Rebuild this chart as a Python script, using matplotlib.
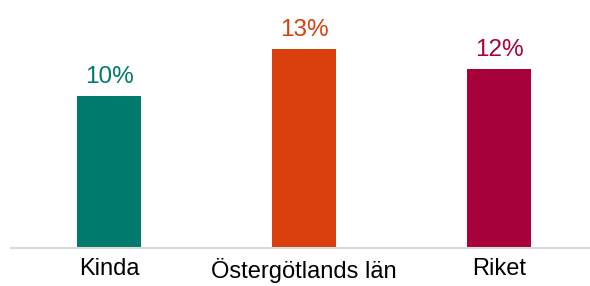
import matplotlib.pyplot as plt

plt.rcParams['font.family'] = ['Liberation Sans', 'DejaVu Sans']

# data
categories = ["Kinda", "Östergötlands län", "Riket"]
values = [9.9, 13.0, 11.7]
labels = ["10%", "13%", "12%"]
colors = ["#007A6C", "#D9400E", "#A8003B"]

fig = plt.figure(figsize=(5.9, 2.86), dpi=100)
ax = fig.add_axes([11 / 590, 38 / 286, 579 / 590, 248 / 286])

x = range(len(categories))
bars = ax.bar(x, values, width=0.33, color=colors, zorder=2)

for bar, lab, col in zip(bars, labels, colors):
    ax.annotate(lab, (bar.get_x() + bar.get_width() / 2, bar.get_height()),
                xytext=(0, 6), textcoords="offset points",
                ha="center", va="bottom", fontsize=17.5, color=col)

ax.set_xlim(-0.503, 2.466)
ax.set_ylim(0, 16.2)
ax.set_xticks(list(x))
ax.set_xticklabels(categories, fontsize=17)
ax.tick_params(axis="x", length=0, pad=7)
ax.set_yticks([])
for side in ["top", "right", "left"]:
    ax.spines[side].set_visible(False)
ax.spines["bottom"].set_color("#D9D9D9")
ax.spines["bottom"].set_linewidth(1.5)

fig.savefig("out.png", dpi=100)
